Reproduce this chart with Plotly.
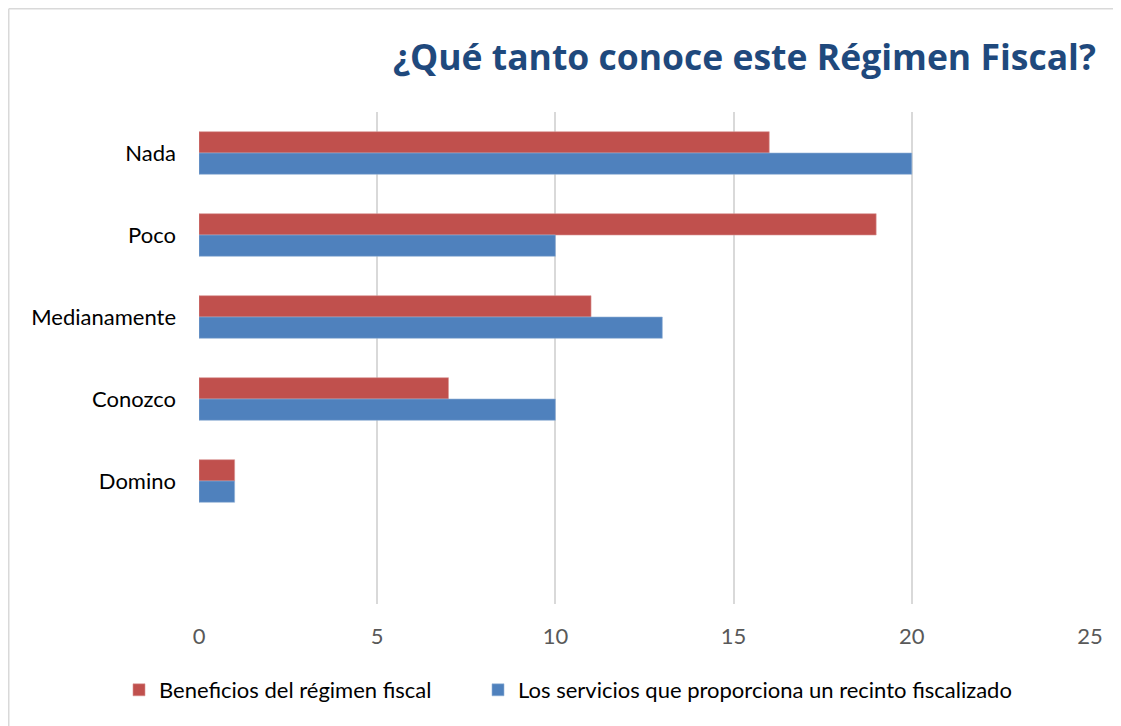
import plotly.graph_objects as go

categories = ["Nada", "Poco", "Medianamente", "Conozco", "Domino"]
beneficios = [16, 19, 11, 7, 1]
servicios = [20, 10, 13, 10, 1]
series_names = ["Beneficios del régimen fiscal",
                "Los servicios que proporciona un recinto fiscalizado"]
x_ticks = [0, 5, 10, 15, 20, 25]
title_text = "¿Qué tanto conoce este Régimen Fiscal?"

# the page body has an 8px margin; figure coordinates are page coordinates - 8
OFF = 8
W, H = 1121 - OFF, 726 - OFF
L, R, T, B = 199 - OFF, 1090 - OFF, 112 - OFF, 604 - OFF

def px_x(p):
    return (p - OFF - L) / (R - L)

def px_y(p):
    return (B - (p - OFF)) / (B - T)

fig = go.Figure()
fig.add_trace(go.Bar(y=categories, x=beneficios, orientation="h", name=series_names[0],
                     legendwidth=314,
                     marker=dict(color="#C0504D", line=dict(color="#D99594", width=0.6))))
fig.add_trace(go.Bar(y=categories, x=servicios, orientation="h", name=series_names[1],
                     marker=dict(color="#4F81BD", line=dict(color="#95B3D7", width=0.6))))

font = "Lato, 'Open Sans', sans-serif"

fig.update_layout(
    width=W, height=H,
    margin=dict(l=L, r=W - R, t=T, b=H - B),
    paper_bgcolor="white", plot_bgcolor="white",
    barmode="group", bargap=0.48, bargroupgap=0,
    font=dict(family=font, size=22, color="#000000"),
    showlegend=True,
    legend=dict(orientation="h", x=px_x(119), xanchor="left", y=px_y(690), yanchor="middle",
                font=dict(size=22, color="#000000"), traceorder="normal",
                itemwidth=30, bgcolor="rgba(0,0,0,0)"),
    annotations=[dict(text="<b>" + title_text + "</b>", xref="paper", yref="paper",
                      x=px_x(1098), y=px_y(56), xanchor="right", yanchor="middle",
                      showarrow=False,
                      font=dict(size=35.5, color="#1F497D", family="'Open Sans', Lato, sans-serif"))],
    shapes=[
        dict(type="line", xref="paper", yref="paper", x0=px_x(8.75), x1=px_x(1140),
             y0=px_y(8.75), y1=px_y(8.75), line=dict(color="#D9D9D9", width=1.5)),
        dict(type="line", xref="paper", yref="paper", x0=px_x(8.75), x1=px_x(8.75),
             y0=px_y(8.75), y1=px_y(740), line=dict(color="#D9D9D9", width=1.5)),
    ],
)
fig.update_xaxes(range=[0, 25], tickvals=x_ticks, showgrid=True, gridcolor="#D9D9D9", gridwidth=1.5,
                 zeroline=False, showline=False, ticks="outside", ticklen=0,
                 tickfont=dict(size=22, color="#595959"), ticklabelstandoff=13)
fig.update_yaxes(type="category", categoryorder="array", categoryarray=categories,
                 range=[5.5, -0.5], showgrid=False, zeroline=False, showline=False,
                 tickfont=dict(size=22, color="#000000"), ticklabelstandoff=22)

fig.write_html("out.html")
